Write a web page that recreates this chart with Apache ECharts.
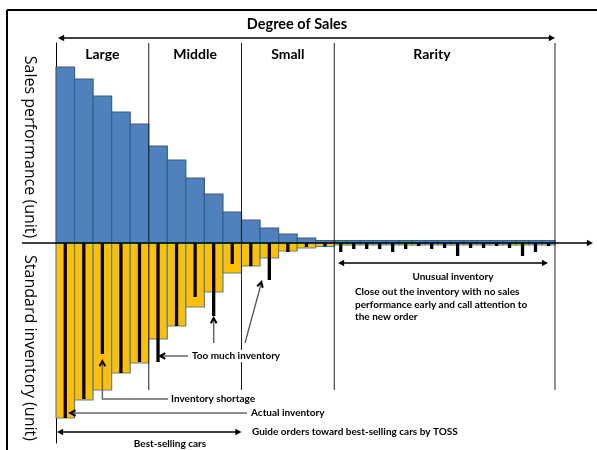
<!DOCTYPE html>
<html>
<head>
<meta charset="utf-8">
<title>Degree of Sales</title>
<script src="https://cdn.jsdelivr.net/npm/echarts@6.0.0/dist/echarts.min.js"></script>
<style>
  html, body { margin: 0; padding: 0; background: #fff; }
  #chart { width: 597px; height: 450px; }
</style>
</head>
<body>
<div id="chart"></div>
<script>
// sales performance (unit) per car model, best sellers first
const salesLarge = [176, 164, 147, 131, 119];
const salesMiddle = [97, 83, 65, 49, 31];
const salesSmall = [23, 15, 9, 5, 2.5];
const salesRarity = [2.5, 2.5, 2.5, 2.5, 2.5, 2.5, 2.5, 2.5, 2.5, 2.5, 2.5, 2.5, 2.5, 2.5, 2.5, 2.5, 2.5];

// standard inventory (unit)
const stdLarge = [175, 157, 147, 130, 120];
const stdMiddle = [96, 83, 64, 49, 30];
const stdSmall = [23, 15, 8, 5, 3.5];
const stdRarity = [2, 2, 2, 2, 2, 2, 2, 2, 2, 2, 2, 2, 2, 2, 2, 2, 2];

// actual inventory (unit)
const actualLarge = [175, 156, 111, 130, 119];
const actualMiddle = [119, 83, 54, 73, 21];
const actualSmall = [23, 37, 9, 4, 3.5];
const actualRarity = [9, 6, 6, 6, 9, 6, 3, 6, 5, 13, 5, 5, 3, 5, 13, 9, 3];

const sectionNames = ["Large", "Middle", "Small", "Rarity"];

const chart = echarts.init(document.getElementById("chart"));

const MAIN_W = 1;
const RARE_W = 0.7;
const groups = [
  { sales: salesLarge, std: stdLarge, act: actualLarge, w: MAIN_W },
  { sales: salesMiddle, std: stdMiddle, act: actualMiddle, w: MAIN_W },
  { sales: salesSmall, std: stdSmall, act: actualSmall, w: MAIN_W },
  { sales: salesRarity, std: stdRarity, act: actualRarity, w: RARE_W },
];

const bars = [];
const bounds = [0];
let cursor = 0;
groups.forEach((g) => {
  g.sales.forEach((s, i) => {
    bars.push({ x0: cursor, x1: cursor + g.w, sales: s, std: g.std[i], act: g.act[i] });
    cursor += g.w;
  });
  bounds.push(cursor);
});
const xMax = cursor;

function rectItem(fill, stroke) {
  return function (params, api) {
    const p0 = api.coord([api.value(0), 0]);
    const p1 = api.coord([api.value(1), api.value(2)]);
    return {
      type: "rect",
      shape: {
        x: p0[0],
        y: Math.min(p0[1], p1[1]),
        width: p1[0] - p0[0],
        height: Math.abs(p1[1] - p0[1]),
      },
      style: { fill: fill, stroke: stroke, lineWidth: 1.2 },
    };
  };
}

function stickItem(params, api) {
  const mid = (api.value(0) + api.value(1)) / 2;
  const p0 = api.coord([mid, 0]);
  const p1 = api.coord([mid, api.value(2)]);
  return {
    type: "line",
    shape: { x1: p0[0], y1: p0[1], x2: p1[0], y2: p1[1] },
    style: { stroke: "#000", lineWidth: 3.3 },
  };
}

const option = {
  animation: false,
  backgroundColor: "#fff",
  grid: { left: 56, right: 42, top: 43, bottom: 7 },
  xAxis: { type: "value", min: 0, max: xMax, show: false },
  yAxis: {
    type: "value",
    min: -200,
    max: 200,
    axisLine: { show: true, lineStyle: { color: "#000", width: 1 } },
    axisTick: { show: false },
    axisLabel: { show: false },
    splitLine: { show: false },
  },
  series: [
    {
      name: "Sales performance",
      type: "custom",
      renderItem: rectItem("#4f81bd", "#385d8a"),
      encode: { x: [0, 1], y: 2 },
      data: bars.map((b) => [b.x0, b.x1, b.sales]),
    },
    {
      name: "Standard inventory",
      type: "custom",
      renderItem: rectItem("#ffc000", "#4f81bd"),
      encode: { x: [0, 1], y: 2 },
      data: bars.map((b) => [b.x0, b.x1, -b.std]),
    },
    {
      name: "Actual inventory",
      type: "custom",
      renderItem: stickItem,
      encode: { x: [0, 1], y: 2 },
      data: bars.map((b) => [b.x0, b.x1, -b.act]),
    },
  ],
};
chart.setOption(option);

//#####··········annotations··········#####//
const px = (x, y) => chart.convertToPixel({ gridIndex: 0 }, [x, y]);
const Z = 100;
const BOLD = "Lato, 'DejaVu Sans', sans-serif";

function line(x1, y1, x2, y2, color, width) {
  return { type: "line", z: Z, shape: { x1, y1, x2, y2 }, style: { stroke: color, lineWidth: width || 1 } };
}
function head(tip, from, size, filled, color) {
  const ang = Math.atan2(tip[1] - from[1], tip[0] - from[0]);
  const a1 = ang + Math.PI - 0.5;
  const a2 = ang + Math.PI + 0.5;
  const pts = [
    [tip[0] + size * Math.cos(a1), tip[1] + size * Math.sin(a1)],
    tip,
    [tip[0] + size * Math.cos(a2), tip[1] + size * Math.sin(a2)],
  ];
  return filled
    ? { type: "polygon", z: Z, shape: { points: pts }, style: { fill: color } }
    : { type: "polyline", z: Z, shape: { points: pts }, style: { stroke: color, lineWidth: 2, fill: null } };
}
function text(str, x, y, opt) {
  opt = opt || {};
  return {
    type: "text",
    z: Z + 1,
    x: x,
    y: y,
    rotation: opt.rotation || 0,
    style: {
      text: str,
      fontFamily: opt.family || BOLD,
      fontSize: opt.size || 10,
      fontWeight: opt.weight || "bold",
      fill: "#000",
      align: opt.align || "left",
      verticalAlign: opt.vAlign || "middle",
      lineHeight: opt.lineHeight,
      backgroundColor: opt.bg,
      padding: opt.bg ? [1, 2] : 0,
    },
  };
}
function doubleArrow(xa, xb, y, color) {
  return [
    line(xa + 4, y, xb - 4, y, color, 1.6),
    head([xa, y], [xb, y], 7, true, color),
    head([xb, y], [xa, y], 7, true, color),
  ];
}

const base = px(0, 0);
const topY = px(0, 200)[1];
const divBottom = px(0, -147)[1];
const g = [];

// frame
g.push(line(7, 10, 597, 10, "#000", 2));
g.push(line(7, 10, 7, 450, "#000", 2));

// section dividers
bounds.slice(1).forEach((b) => {
  const x = px(b, 0)[0];
  g.push(line(x, topY, x, divBottom, "#222", 1));
});

// baseline with arrow
g.push(line(22, base[1], 588, base[1], "#000", 1.5));
g.push(head([593, base[1]], [22, base[1]], 7, true, "#000"));

// top arrow + titles
g.push(...doubleArrow(58, 555, 38, "#000"));
g.push(text("Degree of Sales", 297, 24, { size: 14.5, align: "center" }));
const secX = [
  (px(bounds[0], 0)[0] + px(bounds[1], 0)[0]) / 2,
  (px(bounds[1], 0)[0] + px(bounds[2], 0)[0]) / 2,
  (px(bounds[2], 0)[0] + px(bounds[3], 0)[0]) / 2,
  432,
];
sectionNames.forEach((n, i) => g.push(text(n, secX[i], 54, { size: 14, align: "center" })));

// axis titles
g.push(text("Sales performance (unit)", 30, 147, {
  rotation: -Math.PI / 2, size: 16, weight: "normal", align: "center", family: "'Open Sans', sans-serif",
}));
g.push(text("Standard inventory (unit)", 30, 348, {
  rotation: -Math.PI / 2, size: 16, weight: "normal", align: "center", family: "'Open Sans', sans-serif",
}));

// rarity note
g.push(...doubleArrow(338, 548, 263, "#000"));
g.push(text("Unusual inventory", 453, 277, { align: "center" }));
g.push(text("Close out the inventory with no sales\nperformance early and call attention to\nthe new order", 355, 286, {
  vAlign: "top", lineHeight: 12.4,
}));

// too much inventory
const bar6 = px((bars[5].x0 + bars[5].x1) / 2, -bars[5].act);
const bar9 = px((bars[8].x0 + bars[8].x1) / 2, -bars[8].act);
const bar12 = px((bars[11].x0 + bars[11].x1) / 2, -bars[11].act);
g.push(line(bar6[0] + 3, 356, 188, 356, "#666", 1.5));
g.push(head([bar6[0] + 2, 356], [188, 356], 6, false, "#000"));
g.push(line(bar9[0], 343, bar9[0], bar9[1] + 3, "#666", 1.5));
g.push(head([bar9[0], bar9[1] + 2], [bar9[0], 343], 6, false, "#000"));
g.push(line(245, 343, bar12[0] - 8, bar12[1] + 3, "#555", 1.3));
g.push(head([bar12[0] - 8, bar12[1] + 2], [245, 343], 6, false, "#000"));
g.push(text("Too much inventory", 190, 356, { bg: "#fff" }));

// inventory shortage
const bar3 = px((bars[2].x0 + bars[2].x1) / 2, -bars[2].act);
g.push({
  type: "polyline", z: Z,
  shape: { points: [[168, 399], [bar3[0], 399], [bar3[0], bar3[1] + 8]] },
  style: { stroke: "#666", lineWidth: 1.5, fill: null },
});
g.push(head([bar3[0], bar3[1] + 7], [bar3[0], 399], 6, false, "#000"));
g.push(text("Inventory shortage", 171, 399));

// actual inventory
const bar1x = px((bars[0].x0 + bars[0].x1) / 2, 0)[0];
g.push(line(bar1x + 6, 413, 247, 413, "#666", 1.5));
g.push(head([bar1x + 5, 413], [247, 413], 6, false, "#000"));
g.push(text("Actual inventory", 251, 413));

// best-selling
g.push(...doubleArrow(57, px(bounds[2], 0)[0], 432, "#000"));
g.push(text("Guide orders toward best-selling cars by TOSS", 252, 432));
g.push(text("Best-selling cars", 170, 444, { align: "center" }));

chart.setOption({ graphic: { elements: g } });
</script>
</body>
</html>
